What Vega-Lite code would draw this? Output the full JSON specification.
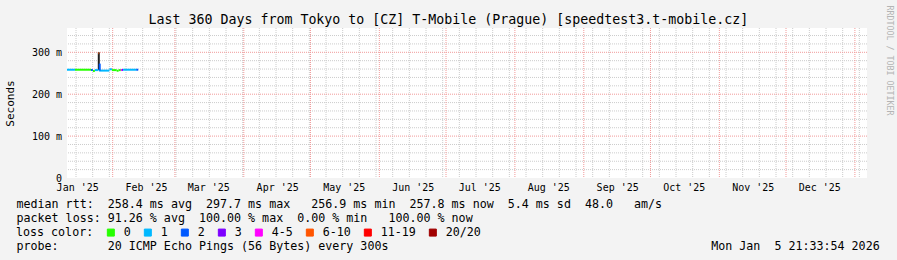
{
  "$schema": "https://vega.github.io/schema/vega-lite/v6.json",
  "width": 800,
  "height": 150,
  "autosize": {"type": "none"},
  "padding": {"left": 67, "top": 28, "right": 30, "bottom": 82},
  "background": "#f3f3f3",
  "config": {
    "view": {"fill": "#ffffff", "stroke": null},
    "font": "DejaVu Sans Mono",
    "axis": {"labelFont": "DejaVu Sans Mono", "titleFont": "DejaVu Sans Mono", "labelColor": "#000000", "titleColor": "#000000", "titleFontWeight": "normal"}
  },
  "datasets": {
    "hminor": [{"v": 20}, {"v": 40}, {"v": 60}, {"v": 80}, {"v": 120}, {"v": 140}, {"v": 160}, {"v": 180}, {"v": 220}, {"v": 240}, {"v": 260}, {"v": 280}, {"v": 320}, {"v": 340}],
    "hmajor": [{"v": 100}, {"v": 200}, {"v": 300}],
    "vmajor": [{"t": "2025-02-01T00:00"}, {"t": "2025-03-01T00:00"}, {"t": "2025-04-01T00:00"}, {"t": "2025-05-01T00:00"}, {"t": "2025-06-01T00:00"}, {"t": "2025-07-01T00:00"}, {"t": "2025-08-01T00:00"}, {"t": "2025-09-01T00:00"}, {"t": "2025-10-01T00:00"}, {"t": "2025-11-01T00:00"}, {"t": "2025-12-01T00:00"}, {"t": "2026-01-01T00:00"}],
    "vminor": [
      {"t": "2025-01-15T12:00"}, {"t": "2025-01-23T00:00"}, {"t": "2025-01-30T12:00"}, {"t": "2025-02-07T00:00"}, {"t": "2025-02-14T12:00"}, {"t": "2025-02-22T00:00"},
      {"t": "2025-03-01T12:00"}, {"t": "2025-03-09T00:00"}, {"t": "2025-03-16T12:00"}, {"t": "2025-03-24T00:00"}, {"t": "2025-03-31T12:00"}, {"t": "2025-04-08T00:00"},
      {"t": "2025-04-15T12:00"}, {"t": "2025-04-23T00:00"}, {"t": "2025-04-30T12:00"}, {"t": "2025-05-08T00:00"}, {"t": "2025-05-15T12:00"}, {"t": "2025-05-23T00:00"},
      {"t": "2025-05-30T12:00"}, {"t": "2025-06-07T00:00"}, {"t": "2025-06-14T12:00"}, {"t": "2025-06-22T00:00"}, {"t": "2025-06-29T12:00"}, {"t": "2025-07-07T00:00"},
      {"t": "2025-07-14T12:00"}, {"t": "2025-07-22T00:00"}, {"t": "2025-07-29T12:00"}, {"t": "2025-08-06T00:00"}, {"t": "2025-08-13T12:00"}, {"t": "2025-08-21T00:00"},
      {"t": "2025-08-28T12:00"}, {"t": "2025-09-05T00:00"}, {"t": "2025-09-12T12:00"}, {"t": "2025-09-20T00:00"}, {"t": "2025-09-27T12:00"}, {"t": "2025-10-05T00:00"},
      {"t": "2025-10-12T12:00"}, {"t": "2025-10-20T00:00"}, {"t": "2025-10-27T12:00"}, {"t": "2025-11-04T00:00"}, {"t": "2025-11-11T12:00"}, {"t": "2025-11-19T00:00"},
      {"t": "2025-11-26T12:00"}, {"t": "2025-12-04T00:00"}, {"t": "2025-12-11T12:00"}, {"t": "2025-12-19T00:00"}, {"t": "2025-12-26T12:00"}, {"t": "2026-01-03T00:00"}
    ],
    "smoke": [
      {"t": "2025-01-25T18:00", "v": 258, "v2": 300}
    ],
    "seg": [
      {"t": "2025-01-11T10:40", "t2": "2025-01-15T01:00", "v": 258.4, "v2": 258.4, "loss": "1"},
      {"t": "2025-01-15T01:00", "t2": "2025-01-22T06:00", "v": 258.4, "v2": 258.4, "loss": "0"},
      {"t": "2025-01-22T06:00", "t2": "2025-01-23T02:00", "v": 258.0, "v2": 258.0, "loss": "2"},
      {"t": "2025-01-23T02:00", "t2": "2025-01-24T00:00", "v": 255.5, "v2": 255.5, "loss": "0"},
      {"t": "2025-01-24T00:00", "t2": "2025-01-25T14:00", "v": 257.5, "v2": 257.5, "loss": "1"},
      {"t": "2025-01-25T14:00", "t2": "2025-01-25T22:00", "v": 297.7, "v2": 297.7, "loss": "6-10"},
      {"t": "2025-01-25T22:00", "t2": "2025-01-30T12:00", "v": 256.3, "v2": 256.3, "loss": "1"},
      {"t": "2025-01-26T04:00", "t2": "2025-01-26T04:00", "v": 256.3, "v2": 273.0, "loss": "2"},
      {"t": "2025-01-30T12:00", "t2": "2025-01-31T16:00", "v": 259.5, "v2": 259.5, "loss": "1"},
      {"t": "2025-01-31T16:00", "t2": "2025-02-02T19:00", "v": 257.5, "v2": 257.5, "loss": "0"},
      {"t": "2025-02-02T19:00", "t2": "2025-02-03T16:00", "v": 256.0, "v2": 256.0, "loss": "0"},
      {"t": "2025-02-03T16:00", "t2": "2025-02-04T16:00", "v": 257.5, "v2": 257.5, "loss": "0"},
      {"t": "2025-02-04T16:00", "t2": "2025-02-05T04:00", "v": 258.0, "v2": 258.0, "loss": "4-5"},
      {"t": "2025-02-05T04:00", "t2": "2025-02-05T16:00", "v": 258.0, "v2": 258.0, "loss": "3"},
      {"t": "2025-02-05T16:00", "t2": "2025-02-11T14:00", "v": 258.4, "v2": 258.4, "loss": "1"},
      {"t": "2025-02-11T14:00", "t2": "2025-02-12T12:00", "v": 258.4, "v2": 258.4, "loss": "2"}
    ]
  },
  "layer": [
    {
      "data": {"name": "hminor"},
      "mark": {"type": "rule", "color": "#cccccc", "strokeWidth": 1, "strokeDash": [1, 1]},
      "encoding": {"y": {"field": "v", "type": "quantitative", "scale": {"domain": [0, 358], "nice": false, "zero": false}, "axis": null}}
    },
    {
      "data": {"name": "vminor"},
      "mark": {"type": "rule", "color": "#cccccc", "strokeWidth": 1, "strokeDash": [1, 1]},
      "encoding": {"x": {"field": "t", "type": "temporal", "scale": {"domain": [{"year": 2025, "month": 1, "date": 11, "hours": 10, "minutes": 40}, {"year": 2026, "month": 1, "date": 6, "hours": 10, "minutes": 40}], "nice": false}, "axis": null}}
    },
    {
      "data": {"name": "hmajor"},
      "mark": {"type": "rule", "color": "#f19a9a", "strokeWidth": 1, "strokeDash": [1, 1]},
      "encoding": {"y": {"field": "v", "type": "quantitative", "scale": {"domain": [0, 358], "nice": false, "zero": false}, "axis": null}}
    },
    {
      "data": {"name": "vmajor"},
      "mark": {"type": "rule", "color": "#f19a9a", "strokeWidth": 1, "strokeDash": [1, 1]},
      "encoding": {"x": {"field": "t", "type": "temporal", "scale": {"domain": [{"year": 2025, "month": 1, "date": 11, "hours": 10, "minutes": 40}, {"year": 2026, "month": 1, "date": 6, "hours": 10, "minutes": 40}], "nice": false}, "axis": null}}
    },
    {
      "data": {"name": "smoke"},
      "mark": {"type": "rule", "color": "#1e1e1e", "strokeWidth": 2},
      "encoding": {
        "x": {"field": "t", "type": "temporal", "scale": {"domain": [{"year": 2025, "month": 1, "date": 11, "hours": 10, "minutes": 40}, {"year": 2026, "month": 1, "date": 6, "hours": 10, "minutes": 40}], "nice": false},
          "axis": {"orient": "top", "title": "Last 360 Days from Tokyo to [CZ] T-Mobile (Prague) [speedtest3.t-mobile.cz]", "labels": false, "ticks": false, "domain": false, "grid": false, "titleX": 380.8, "titleY": -4.5, "titleAlign": "center", "titleBaseline": "alphabetic", "titleFontSize": 13.29, "titleFont": "DejaVu Sans Mono", "titleColor": "#000000", "titleFontWeight": "normal"}},
        "y": {"field": "v", "type": "quantitative", "scale": {"domain": [0, 358], "nice": false, "zero": false},
          "axis": {"orient": "right", "title": "RRDTOOL / TOBI OETIKER", "labels": false, "ticks": false, "domain": false, "grid": false, "titleAngle": 90, "titleX": 21, "titleY": -23, "titleAlign": "left", "titleBaseline": "middle", "titleFontSize": 8.3, "titleColor": "#b4b4b4", "titleFont": "DejaVu Sans Mono", "titleFontWeight": "normal"}},
        "y2": {"field": "v2"}
      }
    },
    {
      "data": {"name": "seg"},
      "mark": {"type": "rule", "strokeWidth": 2, "strokeCap": "butt"},
      "encoding": {
        "x": {"field": "t", "type": "temporal", "scale": {"domain": [{"year": 2025, "month": 1, "date": 11, "hours": 10, "minutes": 40}, {"year": 2026, "month": 1, "date": 6, "hours": 10, "minutes": 40}], "nice": false},
          "axis": {"orient": "bottom", "values": [
            {"year": 2025, "month": 1, "date": 16}, {"year": 2025, "month": 2, "date": 16}, {"year": 2025, "month": 3, "date": 16}, {"year": 2025, "month": 4, "date": 16},
            {"year": 2025, "month": 5, "date": 16}, {"year": 2025, "month": 6, "date": 16}, {"year": 2025, "month": 7, "date": 16}, {"year": 2025, "month": 8, "date": 16},
            {"year": 2025, "month": 9, "date": 16}, {"year": 2025, "month": 10, "date": 16}, {"year": 2025, "month": 11, "date": 16}, {"year": 2025, "month": 12, "date": 16}],
            "format": "%b '%y", "labelFontSize": 9.97, "labelPadding": 4, "labelOverlap": false, "labelFlush": false, "ticks": false, "domain": false, "grid": false,
            "title": [
              "median rtt:\u00a0\u00a0258.4 ms avg\u00a0\u00a0297.7 ms max\u00a0\u00a0\u00a0256.9 ms min\u00a0\u00a0257.8 ms now\u00a0\u00a05.4 ms sd\u00a0\u00a048.0\u00a0\u00a0\u00a0am/s",
              "packet loss: 91.26 % avg\u00a0\u00a0100.00 % max\u00a0\u00a00.00 % min\u00a0\u00a0\u00a0100.00 % now",
              "\u200b\u00a0\u200b",
              "probe:\u00a0\u00a0\u00a0\u00a0\u00a0\u00a0\u00a020 ICMP Echo Pings (56 Bytes) every 300s\u00a0\u00a0\u00a0\u00a0\u00a0\u00a0\u00a0\u00a0\u00a0\u00a0\u00a0\u00a0\u00a0\u00a0\u00a0\u00a0\u00a0\u00a0\u00a0\u00a0\u00a0\u00a0\u00a0\u00a0\u00a0\u00a0\u00a0\u00a0\u00a0\u00a0\u00a0\u00a0\u00a0\u00a0\u00a0\u00a0\u00a0\u00a0\u00a0\u00a0\u00a0\u00a0\u00a0\u00a0\u00a0\u00a0Mon Jan\u00a0\u00a05 21:33:54 2026"
            ],
            "titleFontSize": 11.66, "titleAlign": "left", "titleBaseline": "alphabetic", "titleX": -51, "titleY": 29.5, "titleLineHeight": 14.1}},
        "x2": {"field": "t2"},
        "y": {"field": "v", "type": "quantitative", "scale": {"domain": [0, 358], "nice": false, "zero": false},
          "axis": {"orient": "left", "values": [0, 100, 200, 300], "labelExpr": "datum.value == 0 ? '0' : datum.value + ' m'", "labelFontSize": 9.97, "labelPadding": 5.5, "ticks": false, "domain": false, "grid": false,
            "title": "Seconds", "titleFontSize": 11, "titleX": -57, "titleY": 75, "titleAngle": -90, "titleAlign": "center", "titleBaseline": "middle"}},
        "y2": {"field": "v2"},
        "color": {"field": "loss", "type": "nominal",
          "scale": {"domain": ["0", "1", "2", "3", "4-5", "6-10", "11-19", "20/20"], "range": ["#26ff00", "#00b8ff", "#0059ff", "#7e00ff", "#ff00ff", "#ff5500", "#ff0000", "#a10000"]},
          "legend": {"orient": "none", "legendX": -51, "legendY": 198.5, "direction": "horizontal", "title": "loss color:", "titleOrient": "left", "titleFont": "DejaVu Sans Mono", "titleFontSize": 11.66, "titleFontWeight": "normal", "titleColor": "#000000", "titlePadding": 11,
            "labelFont": "DejaVu Sans Mono", "labelFontSize": 11.66, "labelColor": "#000000", "labelOffset": 7, "symbolType": "square", "symbolSize": 49, "symbolStrokeWidth": 1, "columnPadding": 11, "padding": 0,
            "encode": {"symbols": {"update": {"fill": {"scale": "color", "field": "value"}, "stroke": {"value": "#000000"}, "strokeWidth": {"value": 1}, "opacity": {"value": 1}}}}}}
      }
    },
    {
      "mark": {"type": "rule", "color": "#000000", "strokeWidth": 1, "clip": false},
      "encoding": {
        "x": {"datum": {"year": 2025, "month": 1, "date": 11, "hours": 10, "minutes": 40}, "type": "temporal", "scale": {"domain": [{"year": 2025, "month": 1, "date": 11, "hours": 10, "minutes": 40}, {"year": 2026, "month": 1, "date": 6, "hours": 10, "minutes": 40}], "nice": false}, "axis": null},
        "x2": {"datum": {"year": 2026, "month": 1, "date": 8, "hours": 0}},
        "y": {"datum": 0, "type": "quantitative", "scale": {"domain": [0, 358], "nice": false, "zero": false}, "axis": null}
      }
    },
    {
      "mark": {"type": "rule", "color": "#404040", "strokeWidth": 1, "clip": false},
      "encoding": {
        "x": {"datum": {"year": 2025, "month": 1, "date": 11, "hours": 10, "minutes": 40}, "type": "temporal", "scale": {"domain": [{"year": 2025, "month": 1, "date": 11, "hours": 10, "minutes": 40}, {"year": 2026, "month": 1, "date": 6, "hours": 10, "minutes": 40}], "nice": false}, "axis": null},
        "y": {"datum": 0, "type": "quantitative", "scale": {"domain": [0, 358], "nice": false, "zero": false}, "axis": null},
        "y2": {"datum": 366}
      }
    },
    {
      "mark": {"type": "point", "shape": "triangle-up", "filled": true, "color": "#9e1c1c", "size": 40, "opacity": 1, "clip": false},
      "encoding": {
        "x": {"datum": {"year": 2025, "month": 1, "date": 11, "hours": 10, "minutes": 40}, "type": "temporal", "scale": {"domain": [{"year": 2025, "month": 1, "date": 11, "hours": 10, "minutes": 40}, {"year": 2026, "month": 1, "date": 6, "hours": 10, "minutes": 40}], "nice": false}, "axis": null},
        "y": {"datum": 368, "type": "quantitative", "scale": {"domain": [0, 358], "nice": false, "zero": false}, "axis": null}
      }
    },
    {
      "mark": {"type": "point", "shape": "triangle-right", "filled": true, "color": "#9e1c1c", "size": 40, "opacity": 1, "clip": false},
      "encoding": {
        "x": {"datum": {"year": 2026, "month": 1, "date": 8, "hours": 0}, "type": "temporal", "scale": {"domain": [{"year": 2025, "month": 1, "date": 11, "hours": 10, "minutes": 40}, {"year": 2026, "month": 1, "date": 6, "hours": 10, "minutes": 40}], "nice": false}, "axis": null},
        "y": {"datum": 0, "type": "quantitative", "scale": {"domain": [0, 358], "nice": false, "zero": false}, "axis": null}
      }
    }
  ],
  "resolve": {"axis": {"x": "independent", "y": "independent"}}
}
